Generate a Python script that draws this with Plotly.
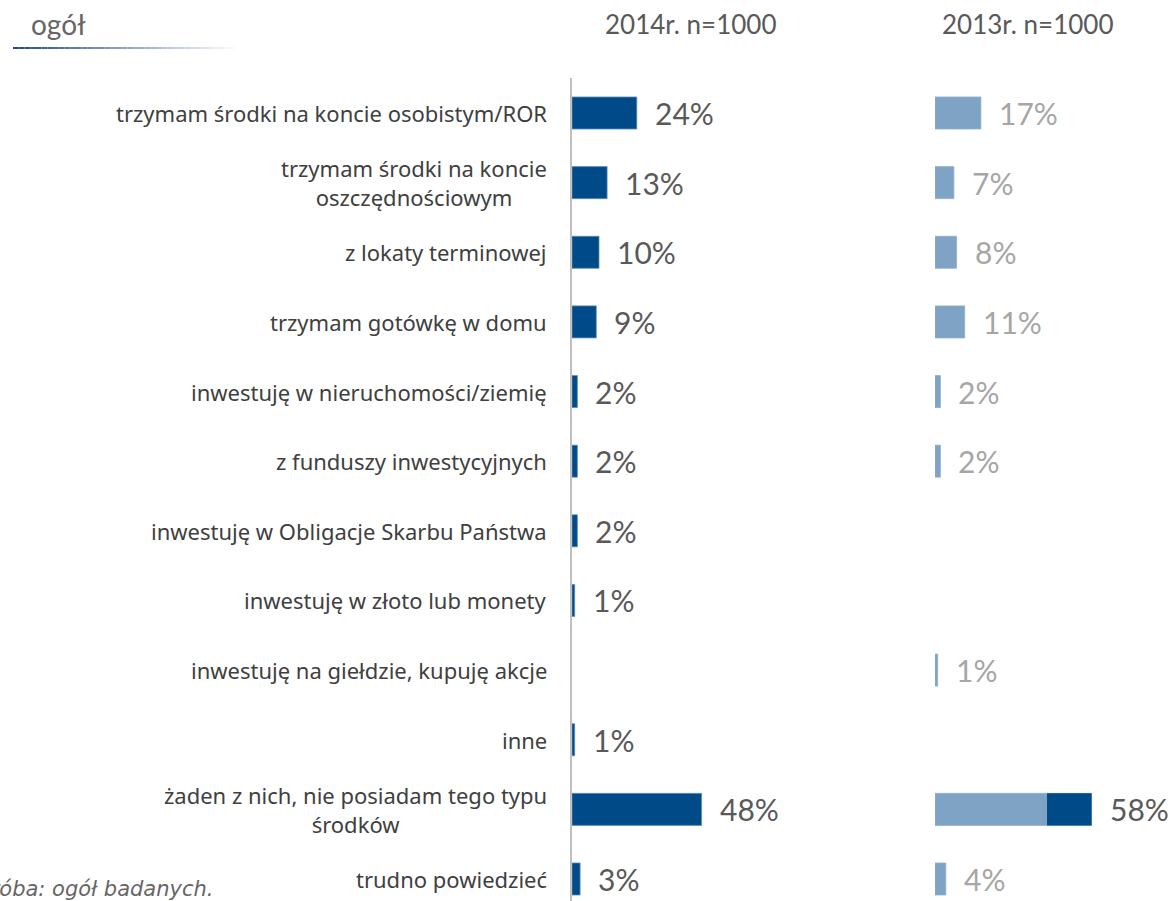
import plotly.graph_objects as go

# Survey answers (top to bottom)
categories = [
    "trzymam środki na koncie osobistym/ROR",
    "trzymam środki na koncie<br>oszczędnościowym",
    "z lokaty terminowej",
    "trzymam gotówkę w domu",
    "inwestuję w nieruchomości/ziemię",
    "z funduszy inwestycyjnych",
    "inwestuję w Obligacje Skarbu Państwa",
    "inwestuję w złoto lub monety",
    "inwestuję na giełdzie, kupuję akcje",
    "inne",
    "żaden z nich, nie posiadam tego typu<br>środków",
    "trudno powiedzieć",
]
share_2014 = [24, 13, 10, 9, 2, 2, 2, 1, None, 1, 48, 3]
share_2013 = [17, 7, 8, 11, 2, 2, None, None, 1, None, 58, 4]
# dark end segment of the "żaden z nich" 2013 bar starts here
highlight_row = 10
highlight_start = 41.5

header_2014 = "2014r. n=1000"
header_2013 = "2013r. n=1000"
section_title = "ogół"
footnote = "Próba: ogół badanych."

W, H = 1172, 901
DARK = "#004a87"
LIGHT = "#7fa3c5"
TXT = "#595959"
TXT_LIGHT = "#a6a6a6"
PX_PER_PCT = 2.7

x1_left, x1_right = 572, 912
x2_left, x2_right = 935, 1172
row_top, row_bottom = 113, 879
step = (row_bottom - row_top) / (len(categories) - 1)
y_range = [len(categories) - 1 + (H - row_bottom) / step, -row_top / step]

fig = go.Figure()

fig.add_trace(go.Bar(
    y=categories, x=share_2014, orientation="h", xaxis="x", yaxis="y",
    width=0.46, marker=dict(color=DARK, line=dict(color="#5f8fbf", width=0.8)),
    hoverinfo="skip", showlegend=False,
))
fig.add_trace(go.Bar(
    y=categories, x=share_2013, orientation="h", xaxis="x2", yaxis="y",
    width=0.46, marker=dict(color=LIGHT, line=dict(color="#8fb0cf", width=0.8)),
    hoverinfo="skip", showlegend=False,
))
fig.add_trace(go.Bar(
    y=[categories[highlight_row]],
    x=[share_2013[highlight_row] - highlight_start],
    base=[highlight_start], orientation="h", xaxis="x2", yaxis="y",
    width=0.46, marker=dict(color=DARK, line=dict(width=0)),
    hoverinfo="skip", showlegend=False,
))

annotations = []
label_font = dict(family="Lato, Open Sans, sans-serif", size=30)

for cat, v in zip(categories, share_2014):
    if v is not None:
        annotations.append(dict(
            x=v, y=cat, xref="x", yref="y", text=f"{v}%", showarrow=False,
            xanchor="left", yanchor="middle", xshift=16,
            font=dict(label_font, color=TXT),
        ))
for i, (cat, v) in enumerate(zip(categories, share_2013)):
    if v is not None:
        annotations.append(dict(
            x=v, y=cat, xref="x2", yref="y", text=f"{v}%", showarrow=False,
            xanchor="left", yanchor="middle", xshift=16,
            font=dict(label_font, color=TXT if i == highlight_row else TXT_LIGHT),
        ))

# category labels, right-aligned block with centred lines
for cat in categories:
    annotations.append(dict(
        x=549 / W, y=cat, xref="paper", yref="y", text=cat, showarrow=False,
        xanchor="right", yanchor="middle", align="center",
        font=dict(family="Noto Sans, sans-serif", size=22, color="#404040"),
    ))

# column headers and title
annotations += [
    dict(x=690 / W, y=1 - 24 / H, xref="paper", yref="paper", text=header_2014,
         showarrow=False, xanchor="center", yanchor="middle",
         font=dict(family="Lato, sans-serif", size=26, color=TXT)),
    dict(x=1027 / W, y=1 - 24 / H, xref="paper", yref="paper", text=header_2013,
         showarrow=False, xanchor="center", yanchor="middle",
         font=dict(family="Lato, sans-serif", size=26, color=TXT)),
    dict(x=29 / W, y=1 - 24 / H, xref="paper", yref="paper", text=section_title,
         showarrow=False, xanchor="left", yanchor="middle",
         font=dict(family="Lato, sans-serif", size=28, color="#666666")),
    dict(x=-24 / W, y=1 - 889 / H, xref="paper", yref="paper", text=f"<i>{footnote}</i>",
         showarrow=False, xanchor="left", yanchor="middle",
         font=dict(family="DejaVu Sans, sans-serif", size=21, color="#666666")),
]

shapes = []
# vertical axis line for the 2014 column
shapes.append(dict(type="line", xref="paper", yref="paper",
                   x0=571 / W, x1=571 / W, y0=0, y1=1 - 78 / H,
                   line=dict(color="#bfbfbf", width=2)))
# gradient underline beneath the title
n_seg = 40
x_start, x_end = 13, 242
for k in range(n_seg):
    t = k / (n_seg - 1)
    r = int(0x1f + (255 - 0x1f) * t)
    g = int(0x4e + (255 - 0x4e) * t)
    b = int(0x8c + (255 - 0x8c) * t)
    xa = x_start + (x_end - x_start) * k / n_seg
    xb = x_start + (x_end - x_start) * (k + 1) / n_seg
    shapes.append(dict(type="line", xref="paper", yref="paper",
                       x0=xa / W, x1=xb / W, y0=1 - 48 / H, y1=1 - 48 / H,
                       line=dict(color=f"rgb({r},{g},{b})", width=2)))

fig.update_layout(
    width=W, height=H,
    margin=dict(l=0, r=0, t=0, b=0),
    paper_bgcolor="white", plot_bgcolor="rgba(0,0,0,0)",
    barmode="overlay",
    xaxis=dict(domain=[x1_left / W, x1_right / W],
               range=[0, (x1_right - x1_left) / PX_PER_PCT],
               visible=False, fixedrange=True),
    xaxis2=dict(domain=[x2_left / W, x2_right / W],
                range=[0, (x2_right - x2_left) / PX_PER_PCT],
                visible=False, fixedrange=True, anchor="y"),
    yaxis=dict(type="category", categoryorder="array", categoryarray=categories,
               range=y_range, domain=[0, 1], visible=False, fixedrange=True),
    annotations=annotations,
    shapes=shapes,
)

fig.write_html("out.html")
